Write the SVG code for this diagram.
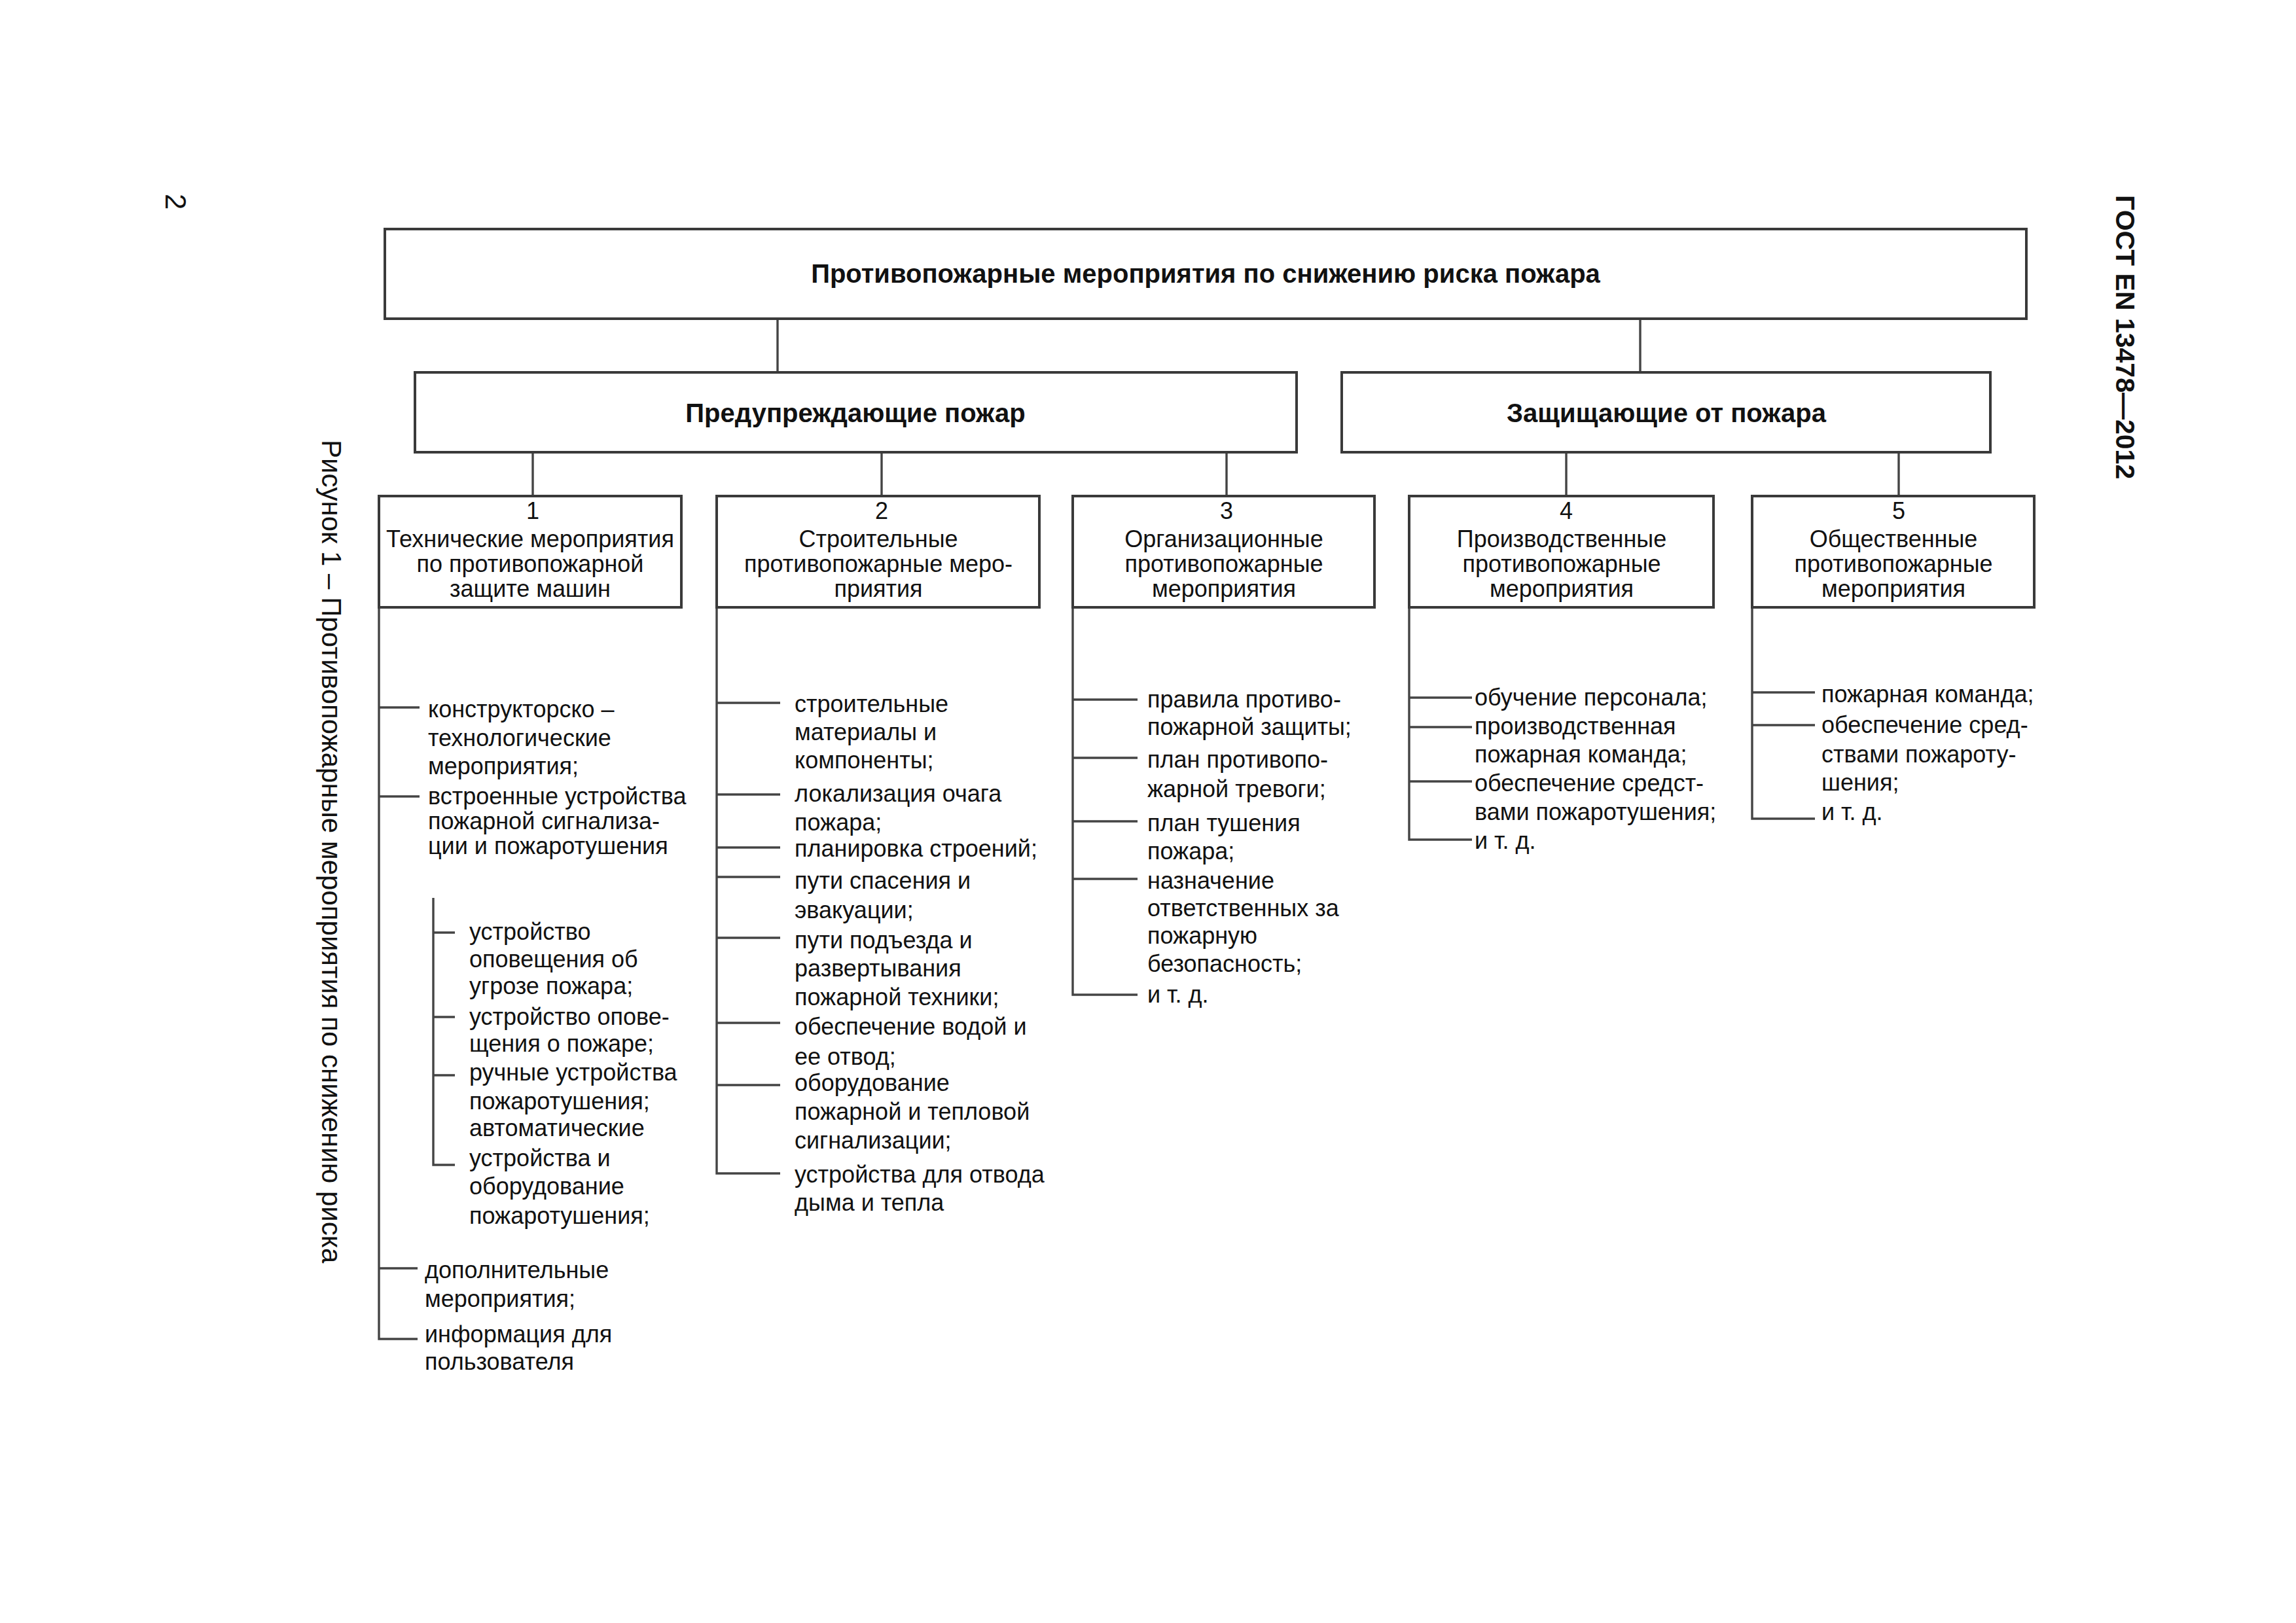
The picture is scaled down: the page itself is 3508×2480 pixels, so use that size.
<svg xmlns="http://www.w3.org/2000/svg" width="3508" height="2480" viewBox="0 0 3508 2480">
<style>
.bg{fill:#fff}
.box{fill:#fff;stroke:#3a3a3a;stroke-width:4}
.ln{stroke:#444;stroke-width:3.4;fill:none}
.t{font-family:"Liberation Sans",Arial,sans-serif;font-size:36px;fill:#111}
.b{font-family:"Liberation Sans",Arial,sans-serif;font-weight:bold;font-size:40px;fill:#111}
.c{text-anchor:middle}
</style>
<rect class="bg" x="0" y="0" width="3508" height="2480"/>

<g id="page-number"><text class="t" style="font-size:44px" transform="translate(253,296) rotate(90)">2</text></g>
<g id="header"><text class="b" style="font-size:41px" transform="translate(3233,298) rotate(90)">ГОСТ EN 13478—2012</text></g>
<g id="caption"><text class="t" style="font-size:42px" transform="translate(492,672) rotate(90)">Рисунок 1 – Противопожарные мероприятия по снижению риска</text></g>

<g id="connectors">
<!-- tree -->
<path class="ln" d="M1188 487V569M2506 487V569"/>
<path class="ln" d="M814 691V758M1347 691V758M1874 691V758M2393 691V758M2901 691V758"/>
<!-- column 1 -->
<path class="ln" d="M579 928V2046H638M579 1081H641M579 1217H641M579 1938H638"/>
<path class="ln" d="M662 1372V1780H695M662 1425H695M662 1554H695M662 1643H695"/>
<!-- column 2 -->
<path class="ln" d="M1095 928V1793H1192M1095 1074H1192M1095 1214H1192M1095 1295H1192M1095 1340H1192M1095 1433H1192M1095 1563H1192M1095 1658H1192"/>
<!-- column 3 -->
<path class="ln" d="M1639 928V1520H1738M1639 1069H1738M1639 1158H1738M1639 1255H1738M1639 1343H1738"/>
<!-- column 4 -->
<path class="ln" d="M2153 928V1283H2249M2153 1066H2249M2153 1111H2249M2153 1194H2249"/>
<!-- column 5 -->
<path class="ln" d="M2677 928V1251H2773M2677 1058H2773M2677 1108H2773"/>
</g>

<g id="root">
<rect class="box" x="588" y="350" width="2508" height="137"/>
<text class="b c" x="1842" y="432">Противопожарные мероприятия по снижению риска пожара</text>
</g>

<g id="prevent">
<rect class="box" x="634" y="569" width="1347" height="122"/>
<text class="b c" x="1307" y="645">Предупреждающие пожар</text>
</g>

<g id="protect">
<rect class="box" x="2050" y="569" width="991" height="122"/>
<text class="b c" x="2546" y="645">Защищающие от пожара</text>
</g>

<g id="cat1">
<rect class="box" x="579" y="758" width="462" height="170"/>
<text class="t c" x="814" y="793">1</text>
<text class="t c"><tspan x="810" y="836">Технические мероприятия</tspan><tspan x="810" y="874">по противопожарной</tspan><tspan x="810" y="912">защите машин</tspan></text>
</g>

<g id="cat2">
<rect class="box" x="1095" y="758" width="493" height="170"/>
<text class="t c" x="1347" y="793">2</text>
<text class="t c"><tspan x="1342" y="836">Строительные</tspan><tspan x="1342" y="874">противопожарные меро-</tspan><tspan x="1342" y="912">приятия</tspan></text>
</g>

<g id="cat3">
<rect class="box" x="1639" y="758" width="461" height="170"/>
<text class="t c" x="1874" y="793">3</text>
<text class="t c"><tspan x="1870" y="836">Организационные</tspan><tspan x="1870" y="874">противопожарные</tspan><tspan x="1870" y="912">мероприятия</tspan></text>
</g>

<g id="cat4">
<rect class="box" x="2153" y="758" width="465" height="170"/>
<text class="t c" x="2393" y="793">4</text>
<text class="t c"><tspan x="2386" y="836">Производственные</tspan><tspan x="2386" y="874">противопожарные</tspan><tspan x="2386" y="912">мероприятия</tspan></text>
</g>

<g id="cat5">
<rect class="box" x="2677" y="758" width="431" height="170"/>
<text class="t c" x="2901" y="793">5</text>
<text class="t c"><tspan x="2893" y="836">Общественные</tspan><tspan x="2893" y="874">противопожарные</tspan><tspan x="2893" y="912">мероприятия</tspan></text>
</g>

<g id="list1">
<g id="l1-1"><text class="t"><tspan x="654" y="1096">конструкторско –</tspan><tspan x="654" y="1140">технологические</tspan><tspan x="654" y="1183">мероприятия;</tspan></text></g>
<g id="l1-2"><text class="t"><tspan x="654" y="1229">встроенные устройства</tspan><tspan x="654" y="1267">пожарной сигнализа-</tspan><tspan x="654" y="1305">ции и пожаротушения</tspan></text></g>
<g id="l1-2a"><text class="t"><tspan x="717" y="1436">устройство</tspan><tspan x="717" y="1478">оповещения об</tspan><tspan x="717" y="1519">угрозе пожара;</tspan></text></g>
<g id="l1-2b"><text class="t"><tspan x="717" y="1566">устройство опове-</tspan><tspan x="717" y="1607">щения о пожаре;</tspan></text></g>
<g id="l1-2c"><text class="t"><tspan x="717" y="1651">ручные устройства</tspan><tspan x="717" y="1695">пожаротушения;</tspan></text></g>
<g id="l1-2d"><text class="t"><tspan x="717" y="1736">автоматические</tspan><tspan x="717" y="1782">устройства и</tspan><tspan x="717" y="1825">оборудование</tspan><tspan x="717" y="1870">пожаротушения;</tspan></text></g>
<g id="l1-3"><text class="t"><tspan x="649" y="1953">дополнительные</tspan><tspan x="649" y="1997">мероприятия;</tspan></text></g>
<g id="l1-4"><text class="t"><tspan x="649" y="2051">информация для</tspan><tspan x="649" y="2093">пользователя</tspan></text></g>
</g>

<g id="list2">
<g id="l2-1"><text class="t"><tspan x="1214" y="1088">строительные</tspan><tspan x="1214" y="1131">материалы и</tspan><tspan x="1214" y="1174">компоненты;</tspan></text></g>
<g id="l2-2"><text class="t"><tspan x="1214" y="1225">локализация очага</tspan><tspan x="1214" y="1269">пожара;</tspan></text></g>
<g id="l2-3"><text class="t"><tspan x="1214" y="1309">планировка строений;</tspan></text></g>
<g id="l2-4"><text class="t"><tspan x="1214" y="1358">пути спасения и</tspan><tspan x="1214" y="1403">эвакуации;</tspan></text></g>
<g id="l2-5"><text class="t"><tspan x="1214" y="1449">пути подъезда и</tspan><tspan x="1214" y="1492">развертывания</tspan><tspan x="1214" y="1536">пожарной техники;</tspan></text></g>
<g id="l2-6"><text class="t"><tspan x="1214" y="1581">обеспечение водой и</tspan><tspan x="1214" y="1627">ее отвод;</tspan></text></g>
<g id="l2-7"><text class="t"><tspan x="1214" y="1667">оборудование</tspan><tspan x="1214" y="1711">пожарной и тепловой</tspan><tspan x="1214" y="1755">сигнализации;</tspan></text></g>
<g id="l2-8"><text class="t"><tspan x="1214" y="1807">устройства для отвода</tspan><tspan x="1214" y="1850">дыма и тепла</tspan></text></g>
</g>

<g id="list3">
<g id="l3-1"><text class="t"><tspan x="1753" y="1081">правила противо-</tspan><tspan x="1753" y="1123">пожарной защиты;</tspan></text></g>
<g id="l3-2"><text class="t"><tspan x="1753" y="1173">план противопо-</tspan><tspan x="1753" y="1218">жарной тревоги;</tspan></text></g>
<g id="l3-3"><text class="t"><tspan x="1753" y="1270">план тушения</tspan><tspan x="1753" y="1313">пожара;</tspan></text></g>
<g id="l3-4"><text class="t"><tspan x="1753" y="1358">назначение</tspan><tspan x="1753" y="1400">ответственных за</tspan><tspan x="1753" y="1442">пожарную</tspan><tspan x="1753" y="1485">безопасность;</tspan></text></g>
<g id="l3-5"><text class="t"><tspan x="1753" y="1532">и т. д.</tspan></text></g>
</g>

<g id="list4">
<g id="l4-1"><text class="t"><tspan x="2253" y="1078">обучение персонала;</tspan></text></g>
<g id="l4-2"><text class="t"><tspan x="2253" y="1122">производственная</tspan><tspan x="2253" y="1165">пожарная команда;</tspan></text></g>
<g id="l4-3"><text class="t"><tspan x="2253" y="1209">обеспечение средст-</tspan><tspan x="2253" y="1253">вами пожаротушения;</tspan></text></g>
<g id="l4-4"><text class="t"><tspan x="2253" y="1297">и т. д.</tspan></text></g>
</g>

<g id="list5">
<g id="l5-1"><text class="t"><tspan x="2783" y="1073">пожарная команда;</tspan></text></g>
<g id="l5-2"><text class="t"><tspan x="2783" y="1120">обеспечение сред-</tspan><tspan x="2783" y="1165">ствами пожароту-</tspan><tspan x="2783" y="1208">шения;</tspan></text></g>
<g id="l5-3"><text class="t"><tspan x="2783" y="1253">и т. д.</tspan></text></g>
</g>
</svg>
